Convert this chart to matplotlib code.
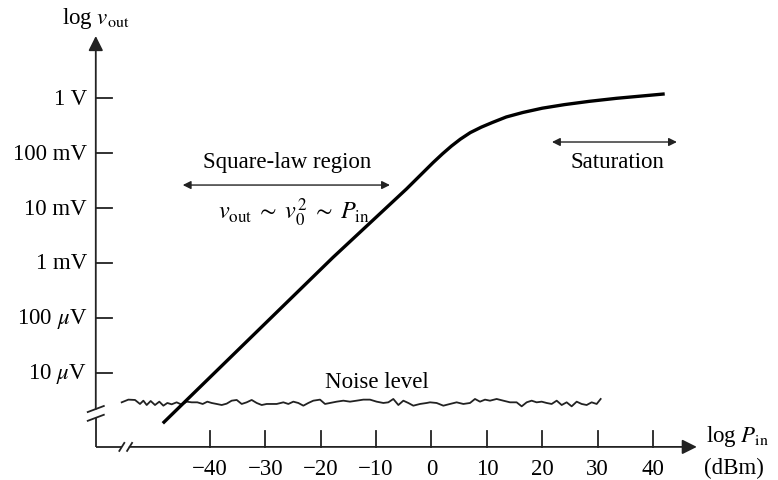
import numpy as np
import matplotlib
matplotlib.use('Agg')
import matplotlib.pyplot as plt

plt.rcParams['font.family'] = ['Liberation Serif', 'DejaVu Serif']
plt.rcParams['mathtext.fontset'] = 'stix'

# #############################################################################
# Data (x in dBm, y in decades of volts, 0 = 1 V)
x_ticks = [-40, -30, -20, -10, 0, 10, 20, 30, 40]
y_ticks = [0, -1, -2, -3, -4, -5]
y_labels = ['1 V', '100 mV', '10 mV', '1 mV', r'100 $\mu$V', r'10 $\mu$V']

# detector response curve
curve_p = [-48.5, -17.8, -4.5, -2.5, 0.3, 2.0, 3.6, 5.2, 7.0, 9.0, 11.0, 13.5,
           16.5, 20.0, 24.0, 28.5, 33.4, 42.1]
curve_v = [-5.92, -2.90, -1.65, -1.45, -1.17, -1.01, -0.87, -0.745, -0.625, -0.525,
           -0.44, -0.34, -0.258, -0.18, -0.115, -0.055, 0.0, 0.08]

# noise floor trace
noise_p = [-55.92, -54.72, -53.52, -52.62, -52.01, -51.41, -50.69, -49.91, -49.13, -48.40,
           -47.68, -46.90, -46.00, -45.09, -44.19, -43.29, -42.27, -41.30, -40.46, -39.68,
           -38.78, -37.87, -36.97, -36.07, -35.16, -34.26, -33.36, -32.46, -31.55, -30.65,
           -29.75,
           -27.95, -26.74, -25.84, -24.94, -24.04, -23.13, -22.23, -21.33, -20.12, -19.22,
           -18.32, -17.12, -15.91, -14.71, -13.51, -12.30, -11.10, -9.90, -8.69, -7.79,
           -6.89, -5.98, -5.08, -4.18, -3.28, -2.07, -0.87,
           -0.27, 0.93, 2.14, 3.34, 4.54, 5.75, 6.95, 7.85, 8.76, 9.66,
           10.56, 11.76, 12.97, 14.17, 15.37, 16.28, 17.18, 18.08, 18.98, 19.89,
           20.79, 21.69, 22.60, 23.50, 24.40, 25.30, 26.21, 27.11, 28.01, 28.91,
           29.82, 30.54]
noise_v = [-5.538, -5.489, -5.495, -5.568, -5.508, -5.587, -5.514, -5.587, -5.526, -5.599,
           -5.550, -5.574, -5.538, -5.581, -5.526, -5.538, -5.538, -5.568, -5.526, -5.550,
           -5.568, -5.587, -5.562, -5.508, -5.495, -5.568, -5.538, -5.495, -5.550, -5.587,
           -5.568,
           -5.568, -5.538, -5.568, -5.526, -5.550, -5.599, -5.550, -5.508, -5.489, -5.568,
           -5.550, -5.526, -5.508, -5.526, -5.508, -5.489, -5.489, -5.526, -5.550, -5.538,
           -5.477, -5.587, -5.508, -5.550, -5.599, -5.568, -5.550,
           -5.538, -5.550, -5.599, -5.568, -5.538, -5.568, -5.550, -5.477, -5.526, -5.489,
           -5.508, -5.477, -5.508, -5.538, -5.538, -5.611, -5.538, -5.508, -5.538, -5.526,
           -5.550, -5.568, -5.508, -5.587, -5.538, -5.611, -5.526, -5.568, -5.587, -5.538,
           -5.568, -5.477]

# #############################################################################
# Plot

fig = plt.figure(figsize=(7.78, 4.81), dpi=100)
ax = fig.add_axes([0, 0, 1, 1])
ax.set_xlim(-77.89, 62.55)
ax.set_ylim(-6.953, 1.809)
ax.axis('off')

y0 = -6.35   # x axis height
x0 = -60.6   # y axis position
fs = 16.5
axcol = '#222222'

arrow_kw = dict(arrowstyle='-|>', color=axcol, lw=1.3, mutation_scale=22,
                shrinkA=0, shrinkB=0)
# y axis, broken near the bottom
ax.annotate('', xy=(x0, 1.135), xytext=(x0, -5.66), arrowprops=arrow_kw)
ax.plot([x0, x0], [y0, -5.82], color=axcol, lw=1.3, solid_capstyle='butt')
for yb in [-5.66, -5.82]:
    ax.plot([x0 - 1.45, x0 + 1.45], [yb - 0.055, yb + 0.055], color=axcol, lw=1.3)

# x axis, broken near the left
ax.annotate('', xy=(47.9, y0), xytext=(-54.5, y0), arrowprops=arrow_kw)
ax.plot([x0, -55.9], [y0, y0], color=axcol, lw=1.3, solid_capstyle='butt')
for xb in [-55.9, -54.5]:
    ax.plot([xb - 0.45, xb + 0.45], [y0 - 0.073, y0 + 0.073], color=axcol, lw=1.3)

# ticks and labels
for v, lab in zip(y_ticks, y_labels):
    ax.plot([x0, x0 + 2.9], [v, v], color=axcol, lw=1.3)
    ax.text(x0 - 1.6, v, lab, ha='right', va='center', fontsize=fs)
for p in x_ticks:
    ax.plot([p, p], [y0, y0 + 0.29], color=axcol, lw=1.3)
    ax.text(p, -6.74, '\u2212%d' % -p if p < 0 else '%d' % p,
            ha='center', va='center', fontsize=fs)

ax.text(x0, 1.48, r'log $v_{\rm out}$', ha='center', va='center', fontsize=fs)
ax.text(55.2, -6.15, r'log $P_{\rm in}$', ha='center', va='center', fontsize=fs)
ax.text(54.6, -6.72, '(dBm)', ha='center', va='center', fontsize=fs)

# curves
ax.plot(noise_p, noise_v, color=axcol, lw=1.3, solid_joinstyle='round')
ax.plot(curve_p, curve_v, color='black', lw=2.4, solid_capstyle='butt',
        solid_joinstyle='round')

# annotations
dbl = dict(arrowstyle='<|-|>', color=axcol, lw=1.0, mutation_scale=12,
           shrinkA=0, shrinkB=0)
ax.annotate('', xy=(-44.9, -1.58), xytext=(-7.5, -1.58), arrowprops=dbl)
ax.annotate('', xy=(21.75, -0.796), xytext=(44.3, -0.796), arrowprops=dbl)
ax.text(-26.1, -1.16, 'Square-law region', ha='center', va='center', fontsize=fs)
ax.text(-24.8, -2.07, r'$v_{\rm out}\;\sim\;v_0^2\;\sim\;P_{\rm in}$',
        ha='center', va='center', fontsize=17.5)
ax.text(33.5, -1.16, 'Saturation', ha='center', va='center', fontsize=fs)
ax.text(-9.84, -5.15, 'Noise level', ha='center', va='center', fontsize=fs)

plt.savefig('out.png', dpi=100)
